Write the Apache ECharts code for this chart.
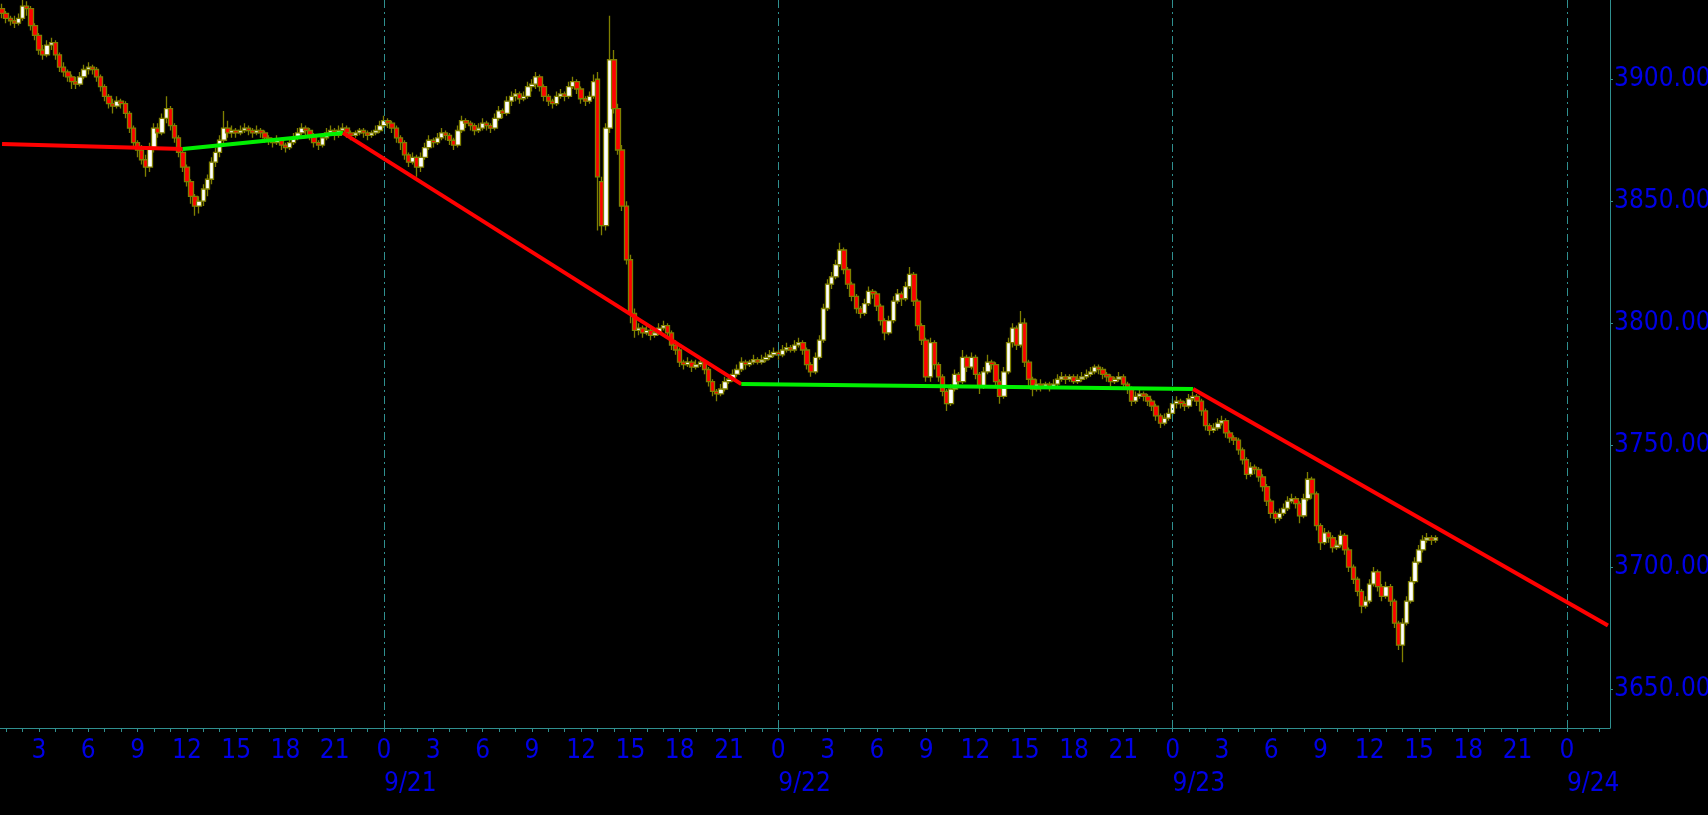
<!DOCTYPE html>
<html>
<head>
<meta charset="utf-8">
<script src="https://cdn.jsdelivr.net/npm/echarts@6/dist/echarts.min.js"></script>
<style>
html,body{margin:0;padding:0;background:#000;overflow:hidden;}
#chart{width:1708px;height:815px;}
</style>
</head>
<body>
<div id="chart"></div>
<script>
// 15-minute slots, first slot 9/20 00:45, 392 slots
const slotStartMinutes = 45;
const slotMinutes = 15;
const slotCount = 392;

// candles [open, close, low, high]
const candles0920 = [
[3929,3927,3925,3931],[3927,3925,3923,3928],[3925,3924,3922,3926],[3924,3923,3921,3926],[3923,3925,3922,3927],
[3925,3930,3924,3933],[3930,3929,3926,3932],[3929,3922,3920,3930],[3922,3918,3916,3923],[3918,3912,3910,3919],
[3912,3910,3908,3914],[3910,3914,3909,3916],[3914,3915,3912,3917],[3915,3910,3908,3916],[3910,3905,3903,3911],
[3905,3903,3901,3907],[3903,3901,3899,3904],[3901,3899,3896,3902],[3899,3898,3896,3901],[3898,3901,3897,3903],
[3901,3904,3900,3906],[3904,3905,3902,3907],[3905,3904,3902,3906],[3904,3901,3899,3905],[3901,3897,3895,3902],
[3897,3893,3891,3898],[3893,3890,3888,3894],[3890,3889,3886,3892],[3889,3891,3888,3893],[3891,3890,3888,3892],
[3890,3886,3884,3891],[3886,3880,3878,3887],[3880,3874,3872,3881],[3874,3871,3868,3875],[3871,3867,3865,3873],
[3867,3864,3860,3869],[3864,3872,3862,3874],[3872,3880,3870,3882],[3880,3878,3876,3882],[3878,3884,3877,3886],
[3884,3888,3882,3893],[3888,3881,3879,3889],[3881,3876,3874,3882],[3876,3870,3868,3877],[3870,3864,3862,3871],
[3864,3858,3856,3865],[3858,3852,3849,3859],[3852,3848,3844,3853],[3848,3850,3845,3852],[3850,3855,3848,3857],
[3855,3859,3852,3861],[3859,3866,3857,3868],[3866,3870,3864,3872],[3870,3875,3868,3877],[3875,3880,3873,3887],
[3880,3878,3876,3883],[3878,3879,3876,3881],[3879,3878,3876,3880],[3878,3879,3877,3881],[3879,3880,3878,3882],
[3880,3879,3877,3881],[3879,3878,3876,3880],[3878,3879,3877,3881],[3879,3878,3876,3880],[3878,3876,3874,3879],
[3876,3875,3873,3877],[3875,3874,3872,3876],[3874,3875,3873,3877],[3875,3873,3871,3876],[3873,3872,3870,3874],
[3872,3874,3871,3876],[3874,3876,3873,3878],[3876,3878,3875,3880],[3878,3880,3877,3882],[3880,3879,3877,3881],
[3879,3877,3875,3880],[3877,3874,3872,3878],[3874,3873,3871,3875],[3873,3876,3872,3878],[3876,3878,3875,3880],
[3878,3879,3877,3881],[3879,3877,3875,3880],[3877,3879,3876,3881],[3879,3880,3878,3882],[3880,3878,3876,3881],
[3878,3877,3875,3879],[3877,3878,3876,3879],[3878,3879,3877,3880],[3879,3878,3876,3880],[3878,3877,3875,3879],
[3877,3878,3876,3879],[3878,3879,3877,3881],[3879,3881,3878,3883]
];
const candles0921 = [
[3881,3883,3880,3885],[3883,3882,3880,3884],[3882,3880,3878,3883],[3880,3876,3874,3881],[3876,3874,3871,3877],
[3874,3869,3867,3875],[3869,3866,3864,3870],[3866,3868,3865,3870],[3868,3864,3860,3869],[3864,3868,3862,3870],
[3868,3872,3867,3874],[3872,3875,3871,3877],[3875,3874,3872,3876],[3874,3876,3873,3878],[3876,3878,3875,3880],
[3878,3877,3875,3879],[3877,3875,3873,3878],[3875,3873,3871,3876],[3873,3879,3872,3881],[3879,3883,3878,3885],
[3883,3882,3880,3884],[3882,3881,3879,3883],[3881,3879,3877,3882],[3879,3880,3878,3882],[3880,3882,3879,3884],
[3882,3881,3879,3883],[3881,3880,3878,3882],[3880,3884,3879,3886],[3884,3887,3883,3889],[3887,3886,3884,3888],
[3886,3891,3885,3893],[3891,3893,3889,3895],[3893,3894,3891,3896],[3894,3892,3890,3895],[3892,3893,3891,3895],
[3893,3897,3892,3899],[3897,3898,3895,3900],[3898,3901,3896,3903],[3901,3897,3895,3902],[3897,3893,3891,3898],
[3893,3891,3889,3894],[3891,3890,3888,3892],[3890,3893,3889,3895],[3893,3894,3892,3896],[3894,3893,3891,3895],
[3893,3897,3892,3899],[3897,3899,3896,3901],[3899,3896,3894,3900],[3896,3892,3890,3897],[3892,3891,3889,3893],
[3891,3893,3890,3895],[3893,3899,3892,3902],[3900,3860,3838,3903],[3858,3840,3836,3860],[3840,3880,3838,3882],
[3880,3908,3878,3926],[3908,3888,3886,3912],[3888,3871,3869,3890],[3871,3848,3846,3873],[3848,3826,3824,3850],
[3826,3804,3800,3828],[3804,3797,3794,3806],[3797,3798,3795,3800],[3798,3796,3794,3799],[3796,3797,3795,3799],
[3797,3795,3793,3798],[3795,3796,3794,3798],[3796,3798,3795,3800],[3798,3799,3797,3801],[3799,3796,3794,3800],
[3796,3791,3789,3797],[3791,3789,3787,3793],[3789,3784,3782,3790],[3784,3783,3781,3785],[3783,3784,3782,3786],
[3784,3782,3780,3785],[3782,3783,3781,3785],[3783,3784,3782,3786],[3784,3781,3779,3785],[3781,3776,3774,3782],
[3776,3772,3770,3777],[3772,3771,3768,3773],[3771,3773,3770,3775],[3773,3776,3772,3778],[3776,3777,3775,3779],
[3777,3779,3776,3781],[3779,3781,3778,3783],[3781,3784,3780,3786],[3784,3783,3781,3785],[3783,3784,3782,3785],
[3784,3785,3783,3787],[3785,3784,3783,3786],[3784,3785,3783,3787],[3785,3786,3784,3788],[3786,3787,3785,3789],
[3787,3788,3786,3790]
];
const candles0922 = [
[3788,3787,3785,3789],[3787,3789,3786,3791],[3789,3790,3788,3792],[3790,3789,3788,3791],[3789,3791,3788,3793],
[3791,3792,3790,3794],[3792,3789,3787,3793],[3789,3783,3781,3790],[3783,3780,3778,3784],[3780,3786,3779,3788],
[3786,3793,3785,3795],[3793,3806,3792,3808],[3806,3816,3805,3818],[3816,3819,3814,3821],[3819,3824,3818,3826],
[3824,3830,3823,3833],[3830,3822,3820,3831],[3822,3816,3814,3823],[3816,3811,3809,3817],[3811,3806,3804,3812],
[3806,3804,3802,3807],[3804,3808,3803,3810],[3808,3813,3807,3815],[3813,3812,3810,3814],[3812,3807,3805,3813],
[3807,3801,3799,3808],[3801,3796,3793,3802],[3796,3801,3795,3803],[3801,3809,3800,3811],[3809,3812,3808,3814],
[3812,3810,3807,3813],[3810,3815,3809,3817],[3815,3820,3814,3823],[3820,3809,3807,3821],[3809,3799,3797,3810],
[3799,3793,3791,3800],[3793,3778,3776,3794],[3778,3792,3776,3794],[3792,3783,3781,3793],[3783,3778,3776,3784],
[3778,3772,3770,3779],[3772,3767,3764,3773],[3767,3773,3766,3775],[3773,3779,3772,3781],[3779,3776,3774,3780],
[3776,3786,3775,3789],[3786,3782,3780,3787],[3782,3786,3781,3788],[3786,3779,3777,3787],[3779,3774,3771,3780],
[3774,3780,3773,3782],[3780,3784,3779,3787],[3784,3783,3781,3785],[3783,3776,3774,3784],[3776,3770,3767,3777],
[3770,3780,3769,3782],[3780,3792,3779,3794],[3792,3798,3790,3800],[3798,3791,3789,3799],[3791,3800,3790,3805],
[3800,3784,3782,3802],[3784,3777,3774,3785],[3777,3773,3770,3778],[3773,3775,3772,3777],[3775,3774,3772,3777],
[3774,3775,3773,3776],[3775,3774,3772,3776],[3774,3775,3773,3777],[3775,3777,3774,3779],[3777,3778,3776,3780],
[3778,3777,3775,3779],[3777,3778,3776,3779],[3778,3776,3775,3779],[3776,3777,3775,3779],[3777,3778,3776,3780],
[3778,3779,3777,3781],[3779,3780,3778,3782],[3780,3782,3779,3783],[3782,3781,3779,3783],[3781,3779,3777,3782],
[3779,3778,3776,3780],[3778,3776,3774,3779],[3776,3777,3775,3778],[3777,3778,3776,3780],[3778,3775,3773,3779],
[3775,3773,3771,3776],[3773,3768,3766,3774],[3768,3770,3767,3772],[3770,3771,3769,3773],[3771,3770,3768,3772],
[3770,3768,3766,3771],[3768,3766,3764,3769],[3766,3762,3760,3767],[3762,3759,3757,3763],[3759,3761,3758,3763],
[3761,3763,3760,3765]
];
const candles0923 = [
[3763,3767,3762,3769],[3767,3768,3765,3770],[3768,3767,3765,3769],[3767,3766,3764,3768],[3766,3769,3765,3771],
[3769,3770,3768,3772],[3770,3768,3766,3771],[3768,3764,3762,3769],[3764,3758,3756,3765],[3758,3756,3754,3759],
[3756,3757,3755,3759],[3757,3759,3756,3761],[3759,3760,3758,3762],[3760,3755,3753,3761],[3755,3753,3751,3756],
[3753,3752,3750,3754],[3752,3748,3746,3753],[3748,3744,3742,3749],[3744,3738,3736,3745],[3738,3741,3737,3743],
[3741,3740,3738,3742],[3740,3737,3735,3741],[3737,3733,3731,3738],[3733,3727,3725,3734],[3727,3722,3720,3728],
[3722,3720,3718,3723],[3720,3722,3719,3724],[3722,3724,3721,3726],[3724,3727,3723,3729],[3727,3728,3726,3730],
[3728,3726,3724,3729],[3726,3721,3718,3727],[3721,3728,3720,3730],[3728,3736,3727,3739],[3736,3730,3728,3737],
[3730,3717,3715,3731],[3717,3710,3707,3718],[3710,3714,3709,3716],[3714,3712,3710,3715],[3712,3708,3706,3713],
[3708,3709,3707,3711],[3709,3713,3708,3715],[3713,3707,3705,3714],[3707,3700,3698,3708],[3700,3695,3693,3701],
[3695,3690,3688,3696],[3690,3684,3681,3691],[3684,3686,3683,3688],[3686,3693,3685,3695],[3693,3698,3692,3700],
[3698,3692,3690,3699],[3692,3688,3686,3693],[3688,3692,3687,3694],[3692,3686,3684,3693],[3686,3677,3675,3687],
[3677,3668,3666,3678],[3668,3677,3661,3679],[3677,3686,3676,3688],[3686,3694,3685,3696],[3694,3702,3693,3704],
[3702,3707,3701,3709],[3707,3711,3706,3713],[3711,3712,3710,3714],[3712,3711,3709,3713],[3711,3712,3710,3713]
];

// trend lines: vertices (time slot, price) and segment colours
const trendTimes = ['9/20 00:45','9/20 11:45','9/20 21:30','9/21 21:45','9/23 01:15','9/24 02:30'];
const trendValues = [3873.5, 3871.4, 3878, 3775, 3773, 3676];
const trendColors = ['#ff0000','#00f000','#ff0000','#00f000','#ff0000'];

// day separators
const dayMarks = ['9/21 00:00','9/22 00:00','9/23 00:00','9/24 00:00'];

const yMin = 3634, yMax = 3932.5;

function pad(n){ return n < 10 ? '0' + n : '' + n; }
const categories = [];
for (let k = 0; k < slotCount; k++) {
  const m = slotStartMinutes + slotMinutes * k;
  const day = 20 + Math.floor(m / 1440);
  const rem = m % 1440;
  categories.push('9/' + day + ' ' + pad(Math.floor(rem / 60)) + ':' + pad(rem % 60));
}
function parts(v){ const t = v.split(' ')[1].split(':'); return {date: v.split(' ')[0], h: parseInt(t[0], 10), m: parseInt(t[1], 10)}; }

const candleData = candles0920.concat(candles0921, candles0922, candles0923);

const axisColor = '#2f8f8f';
const labelColor = '#0000e6';
const fontFam = '"DejaVu Sans Condensed", "Noto Sans", "DejaVu Sans", sans-serif';

const series = [{
  type: 'candlestick',
  xAxisIndex: 0,
  data: candleData,
  barWidth: 5,
  itemStyle: {
    color: '#ffffff',
    color0: '#ff0000',
    borderColor: '#808000',
    borderColor0: '#808000',
    borderWidth: 1.3
  },
  markLine: {
    silent: true,
    symbol: ['none','none'],
    label: {show: false},
    lineStyle: {color: axisColor, type: [8,4,2,4], width: 1},
    data: dayMarks.map(d => ({xAxis: d}))
  },
  z: 2
}];
for (let i = 0; i < trendColors.length; i++) {
  series.push({
    type: 'line',
    xAxisIndex: 0,
    data: [[categories.indexOf(trendTimes[i]), trendValues[i]], [categories.indexOf(trendTimes[i+1]), trendValues[i+1]]],
    symbol: 'none',
    lineStyle: {color: trendColors[i], width: 4},
    z: 5
  });
}

const chart = echarts.init(document.getElementById('chart'));
chart.setOption({
  backgroundColor: '#000000',
  animation: false,
  grid: {left: 0, right: 98, top: 0, bottom: 87, containLabel: false, outerBoundsMode: 'none'},
  xAxis: [{
    type: 'category',
    data: categories,
    boundaryGap: true,
    axisLine: {show: true, lineStyle: {color: axisColor, width: 1}},
    axisTick: {show: true, alignWithLabel: true, length: 4, lineStyle: {color: axisColor},
      interval: (i, v) => parts(v).m === 0},
    axisLabel: {
      interval: (i, v) => { const p = parts(v); return p.m === 0 && p.h % 3 === 0; },
      formatter: v => String(parts(v).h),
      color: labelColor, fontSize: 26, fontFamily: fontFam, margin: 10
    },
    splitLine: {show: false}
  }, {
    type: 'category',
    data: categories,
    boundaryGap: true,
    position: 'bottom',
    axisLine: {show: false},
    axisTick: {show: false, alignWithLabel: true},
    axisLabel: {
      interval: (i, v) => { const p = parts(v); return p.m === 0 && p.h === 0; },
      formatter: v => parts(v).date,
      align: 'left',
      color: labelColor, fontSize: 26, fontFamily: fontFam, margin: 43
    },
    splitLine: {show: false}
  }],
  yAxis: {
    type: 'value',
    position: 'right',
    min: yMin,
    max: yMax,
    axisLine: {show: true, lineStyle: {color: axisColor, width: 1}},
    axisTick: {show: true, length: 3, lineStyle: {color: axisColor}},
    axisLabel: {
      showMinLabel: false, showMaxLabel: false,
      formatter: v => (v % 50 === 0 ? v.toFixed(2) : ''),
      color: labelColor, fontSize: 26, fontFamily: fontFam, margin: 4
    },
    splitLine: {show: false}
  },
  series: series
});
</script>
</body>
</html>
